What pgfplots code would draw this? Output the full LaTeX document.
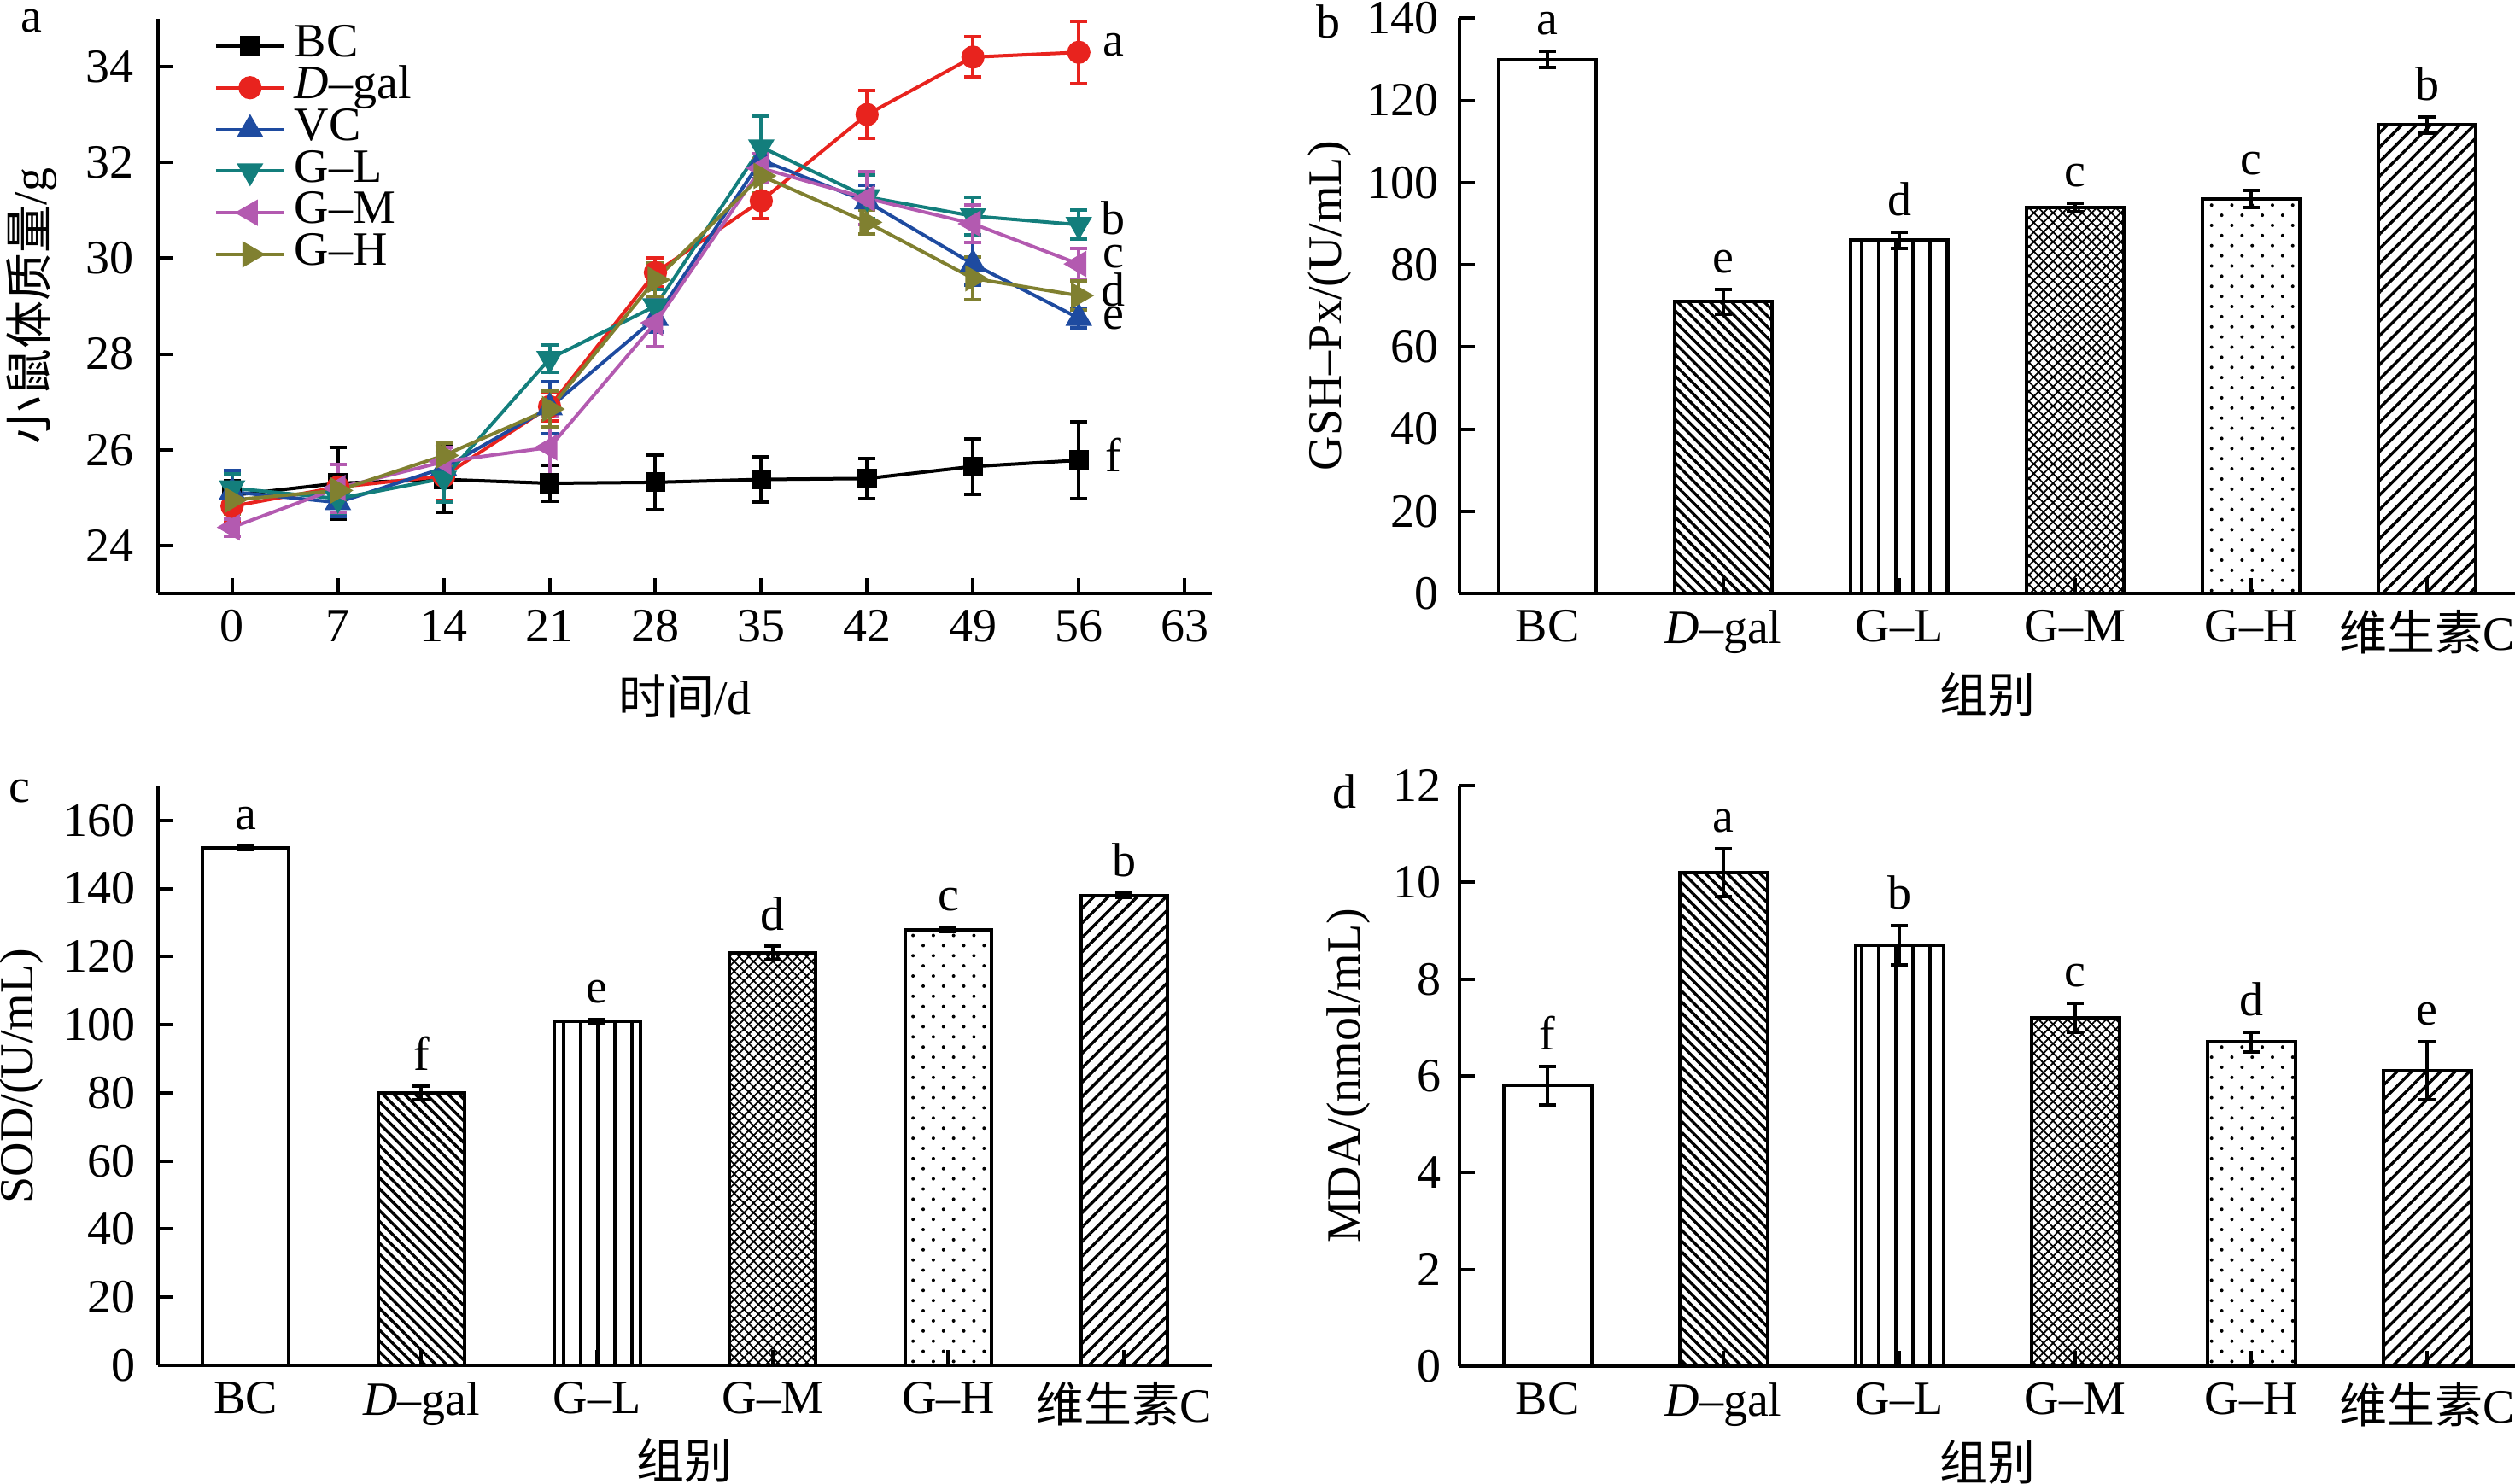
\documentclass[border=0pt]{standalone}
\usepackage{fontspec}
\setmainfont{Liberation Serif}
\newfontfamily\cjk{Noto Sans CJK SC}
\usepackage{pgfplots}
\pgfplotsset{compat=1.18}
\usetikzlibrary{patterns.meta}

\definecolor{cred}{HTML}{E8231E}
\definecolor{cblue}{HTML}{1E4BA0}
\definecolor{cteal}{HTML}{137E7C}
\definecolor{cmag}{HTML}{B35AB0}
\definecolor{coli}{HTML}{808030}

\pgfplotsset{
 base/.style={scale only axis, axis x line*=bottom, axis y line*=left,
   axis line style={line width=1pt}, tick align=inside, major tick length=4.5pt,
   tick style={line width=1pt,black}, /pgf/number format/assume math mode=true,
   clip=false},
 baraxis/.style={base, xmin=0.5, xmax=6.5, ymin=0, xtick={1,...,6},
   xticklabels={BC,\textit{D}–gal,G–L,G–M,G–H,{\cjk 维生素}C}, xlabel={\cjk 组别}},
 mybar/.style={ybar, bar width=#1, bar shift=0pt, draw=black, line width=1pt,
   error bars/y dir=both, error bars/y explicit,
   error bars/error bar style={line width=1pt, solid, black},
   error bars/error mark options={rotate=90, mark size=2.5pt, line width=1pt, solid, black}},
 lett/.style={forget plot, draw=none, mark=none, nodes near coords, point meta=explicit symbolic,
   nodes near coords style={anchor=south, inner sep=0pt, yshift=4.5pt, black}},
 lettc/.style={forget plot, draw=none, mark=none, nodes near coords, point meta=explicit symbolic,
   nodes near coords style={anchor=center, inner sep=0pt, black}},
 ln/.style={line width=1pt, solid, mark options={solid},
   error bars/y dir=both, error bars/y explicit,
   error bars/error bar style={line width=1pt, solid},
   error bars/error mark options={rotate=90, mark size=2.5pt, line width=1pt, solid}},
 pdgal/.style={pattern={Lines[angle=-45,distance=2.25pt,line width=0.85pt]}},
 pgl/.style={pattern={Lines[angle=90,distance=5pt,line width=0.8pt]}},
 pgm/.style={pattern={Hatch[angle=45,distance=2pt,line width=0.45pt]}},
 pgh/.style={pattern={Dots[angle=45,distance=4.2pt,radius=0.5pt]}},
 pvc/.style={pattern={Lines[angle=45,distance=3pt,line width=0.85pt]}},
}

\begin{document}
\fontsize{14}{16.8}\selectfont
\begin{tikzpicture}
\useasboundingbox (0,0) rectangle (736.25pt,434.25pt);

% ---------------- panel a ----------------
\begin{axis}[base, at={(46.25pt,260.5pt)}, anchor=south west,
  width=308.5pt, height=168.25pt,
  xmin=-4.9, xmax=64.8, ymin=23, ymax=35,
  xtick={0,7,...,63}, ytick={24,26,...,34},
  yticklabel style={xshift=-2.3pt},
  xlabel={{\cjk 时间}/d}, ylabel={{\cjk 小鼠体质量}/g},
  xlabel style={at={([yshift=-30pt]axis description cs:0.5,0)}, anchor=center},
  ylabel style={at={([xshift=-37pt]axis description cs:0,0.5)}, anchor=center},
  legend cell align=left,
  legend style={draw=none, fill=none, at={(axis description cs:0.0527,0.99)}, anchor=north west,
    inner sep=0pt, row sep=0pt,
    nodes={inner xsep=2.5pt, inner ysep=0.1pt, text height=9.2pt, text depth=2.8pt}},
  legend image code/.code={\draw[mark repeat=2,mark phase=2,#1] plot coordinates {(0pt,0pt) (10pt,0pt) (20pt,0pt)};},
]
\addplot[ln, black, mark=square*, mark size=2.4pt] coordinates {
 (0,25.05) +- (0,0.3) (7,25.3) +- (0,0.75) (14,25.38) +- (0,0.68) (21,25.3) +- (0,0.37)
 (28,25.32) +- (0,0.57) (35,25.38) +- (0,0.47) (42,25.4) +- (0,0.42) (49,25.65) +- (0,0.58)
 (56,25.78) +- (0,0.8)};
\addlegendentry{BC}
\addplot[ln, cred, mark=*, mark size=2.9pt] coordinates {
 (0,24.82) +- (0,0.3) (7,25.22) +- (0,0.2) (14,25.45) +- (0,0.5) (21,26.9) +- (0,0.3)
 (28,29.7) +- (0,0.3) (35,31.2) +- (0,0.37) (42,33.0) +- (0,0.5) (49,34.2) +- (0,0.42)
 (56,34.3) +- (0,0.65)};
\addlegendentry{\textit{D}–gal}
\addplot[ln, cblue, mark=triangle*, mark size=3.5pt] coordinates {
 (0,25.12) +- (0,0.45) (7,24.9) +- (0,0.3) (14,25.62) +- (0,0.3) (21,26.88) +- (0,0.55)
 (28,28.75) +- (0,0.3) (35,32.05) +- (0,0.3) (42,31.18) +- (0,0.35) (49,29.88) +- (0,0.45)
 (56,28.75) +- (0,0.2)};
\addlegendentry{VC}
\addplot[ln, cteal, mark=triangle*, mark size=3.5pt, mark options={rotate=180}] coordinates {
 (0,25.2) +- (0,0.3) (7,24.98) +- (0,0.3) (14,25.4) +- (0,0.5) (21,27.9) +- (0,0.28)
 (28,29.0) +- (0,0.35) (35,32.32) +- (0,0.65) (42,31.28) +- (0,0.45) (49,30.88) +- (0,0.4)
 (56,30.7) +- (0,0.3)};
\addlegendentry{G–L}
\addplot[ln, cmag, mark=triangle*, mark size=3.5pt, mark options={rotate=90}] coordinates {
 (0,24.38) +- (0,0.18) (7,25.2) +- (0,0.5) (14,25.75) +- (0,0.3) (21,26.05) +- (0,0.65)
 (28,28.65) +- (0,0.5) (35,31.88) +- (0,0.3) (42,31.25) +- (0,0.55) (49,30.72) +- (0,0.4)
 (56,29.88) +- (0,0.33)};
\addlegendentry{G–M}
\addplot[ln, coli, mark=triangle*, mark size=3.5pt, mark options={rotate=-90}] coordinates {
 (0,24.95) +- (0,0.3) (7,25.15) +- (0,0.25) (14,25.88) +- (0,0.25) (21,26.85) +- (0,0.38)
 (28,29.55) +- (0,0.35) (35,31.72) +- (0,0.35) (42,30.75) +- (0,0.25) (49,29.58) +- (0,0.45)
 (56,29.22) +- (0,0.3)};
\addlegendentry{G–H}
\addplot[lettc] coordinates {
 (58.3,34.45)[a] (58.3,30.84)[b] (58.3,30.04)[c] (58.3,29.34)[d] (58.3,28.74)[e] (58.3,25.9)[f]};
\end{axis}

% ---------------- panel b ----------------
\begin{axis}[baraxis, at={(427.25pt,260.5pt)}, anchor=south west,
  width=309pt, height=168.4pt, ymax=140, ytick={0,20,...,140},
  yticklabel style={xshift=-1.3pt},
  ylabel={GSH–Px/(U/mL)},
  xlabel style={at={([yshift=-29.5pt]axis description cs:0.5,0)}, anchor=center},
  ylabel style={at={([xshift=-38pt]axis description cs:0,0.5)}, anchor=center},
]
\addplot[mybar=0.55, fill=white] coordinates {(1,130) +- (0,2)};
\addplot[mybar=0.55, pdgal] coordinates {(2,71) +- (0,3)};
\addplot[mybar=0.55, pgl] coordinates {(3,86) +- (0,2)};
\addplot[mybar=0.55, pgm] coordinates {(4,94) +- (0,1)};
\addplot[mybar=0.55, pgh] coordinates {(5,96) +- (0,2)};
\addplot[mybar=0.55, pvc] coordinates {(6,114) +- (0,2)};
\addplot[lett] coordinates {(1,132)[a] (2,74)[e] (3,88)[d] (4,95)[c] (5,98)[c] (6,116)[b]};
\end{axis}

% ---------------- panel c ----------------
\begin{axis}[baraxis, at={(46.25pt,34.5pt)}, anchor=south west,
  width=308.5pt, height=169.5pt, ymax=170, ytick={0,20,...,160},
  yticklabel style={xshift=-1.8pt},
  ylabel={SOD/(U/mL)},
  xlabel style={at={([yshift=-27.75pt]axis description cs:0.5,0)}, anchor=center},
  ylabel style={at={([xshift=-40pt]axis description cs:0,0.5)}, anchor=center},
]
\addplot[mybar=0.49, fill=white] coordinates {(1,152) +- (0,0.6)};
\addplot[mybar=0.49, pdgal] coordinates {(2,80) +- (0,2)};
\addplot[mybar=0.49, pgl] coordinates {(3,101) +- (0,0.6)};
\addplot[mybar=0.49, pgm] coordinates {(4,121) +- (0,2)};
\addplot[mybar=0.49, pgh] coordinates {(5,128) +- (0,0.6)};
\addplot[mybar=0.49, pvc] coordinates {(6,138) +- (0,0.6)};
\addplot[lett] coordinates {(1,152.6)[a] (2,82)[f] (3,101.6)[e] (4,123)[d] (5,128.6)[c] (6,138.6)[b]};
\end{axis}

% ---------------- panel d ----------------
\begin{axis}[baraxis, at={(427.25pt,34.25pt)}, anchor=south west,
  width=309pt, height=170pt, ymax=12, ytick={0,2,...,12},
  yticklabel style={xshift=-0.6pt},
  ylabel={MDA/(nmol/mL)},
  xlabel style={at={([yshift=-28pt]axis description cs:0.5,0)}, anchor=center},
  ylabel style={at={([xshift=-32.5pt]axis description cs:0,0.5)}, anchor=center},
]
\addplot[mybar=0.5, fill=white] coordinates {(1,5.8) +- (0,0.4)};
\addplot[mybar=0.5, pdgal] coordinates {(2,10.2) +- (0,0.5)};
\addplot[mybar=0.5, pgl] coordinates {(3,8.7) +- (0,0.4)};
\addplot[mybar=0.5, pgm] coordinates {(4,7.2) +- (0,0.3)};
\addplot[mybar=0.5, pgh] coordinates {(5,6.7) +- (0,0.2)};
\addplot[mybar=0.5, pvc] coordinates {(6,6.1) +- (0,0.6)};
\addplot[lett] coordinates {(1,6.2)[f] (2,10.7)[a] (3,9.1)[b] (4,7.5)[c] (5,6.9)[d] (6,6.7)[e]};
\end{axis}

\node[anchor=center] at (9.25pt,428pt) {a};
\node[anchor=center] at (388.75pt,428pt) {b};
\node[anchor=center] at (5.75pt,202.5pt) {c};
\node[anchor=center] at (393.5pt,202.5pt) {d};
\end{tikzpicture}
\end{document}
